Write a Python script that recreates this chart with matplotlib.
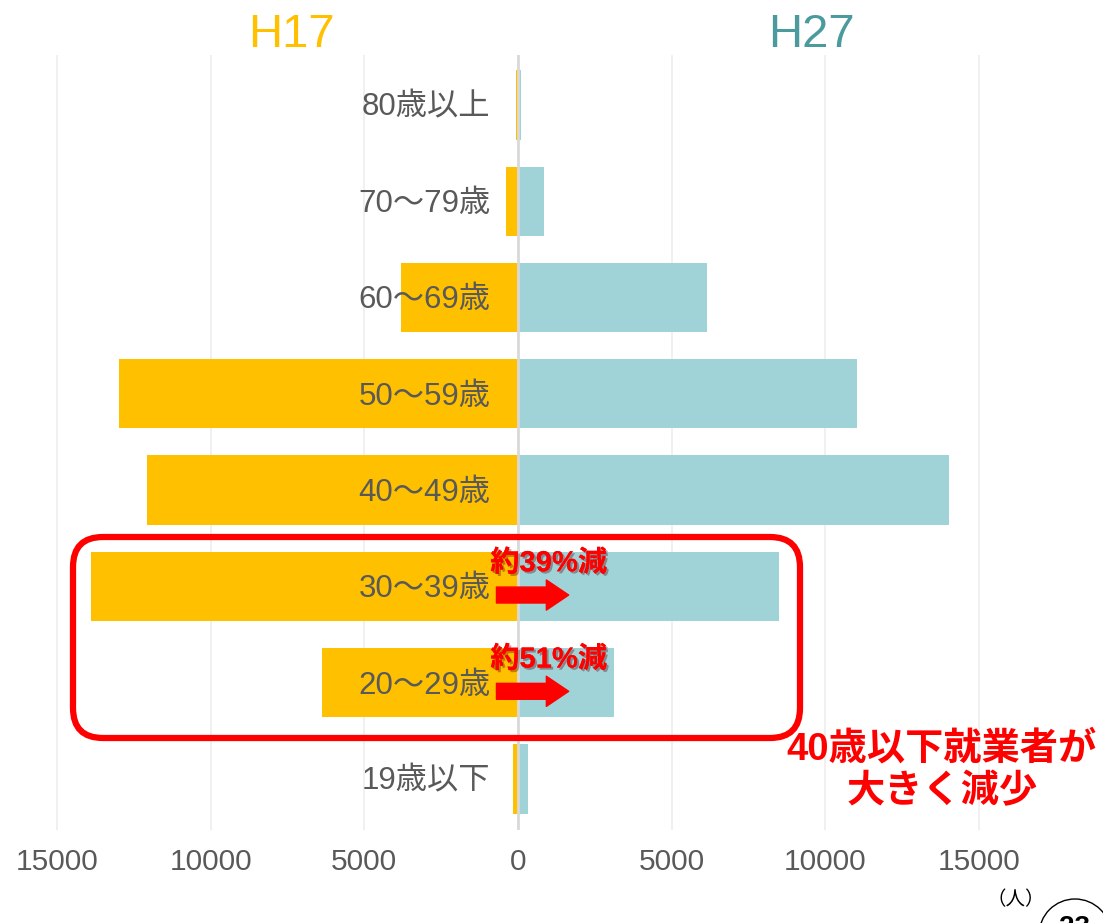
import matplotlib.pyplot as plt
import matplotlib.patheffects as pe
from matplotlib.patches import FancyBboxPatch, Circle
from matplotlib.transforms import IdentityTransform

# 年齢階級別の就業者数（人）
ages = ["19歳以下", "20～29歳", "30～39歳", "40～49歳",
        "50～59歳", "60～69歳", "70～79歳", "80歳以上"]
h17 = [160, 6380, 13890, 12070, 12980, 3800, 390, 60]
h27 = [330, 3120, 8490, 14020, 11030, 6150, 850, 100]
ticks = [-15000, -10000, -5000, 0, 5000, 10000, 15000]
tick_labels = ["15000", "10000", "5000", "0", "5000", "10000", "15000"]

# 減少率の注記（年齢階級の位置, 文字）
notes = [(1, "約51%減"), (2, "約39%減")]

GOLD = "#FFC000"
TEAL = "#A0D3D7"
GRAY = "#595959"
FONT = ["Liberation Sans", "Noto Sans CJK JP"]

plt.rcParams["font.family"] = FONT

fig = plt.figure(figsize=(11.03, 9.23), dpi=100)
ax = fig.add_axes([0, 0.1008, 1, 0.8397])

y = list(range(len(ages)))
ax.barh(y, [-v for v in h17], height=0.72, color=GOLD, zorder=2)
ax.barh(y, h27, height=0.72, color=TEAL, zorder=2)
ax.axvline(0, color="#D9D9D9", lw=2, zorder=3)

ax.set_xlim(-16850, 19030)
ax.set_ylim(-0.53, 7.52)
ax.set_xticks(ticks)
ax.set_xticklabels(tick_labels)
ax.tick_params(axis="x", length=0, pad=13, labelsize=21.5, labelcolor=GRAY)
ax.set_yticks([])
ax.grid(axis="x", color="#EDEDED", lw=1.2, zorder=0)
for s in ax.spines.values():
    s.set_visible(False)

for yi, lab in zip(y, ages):
    ax.text(-900, yi - 0.03, lab, ha="right", va="center", fontsize=22.5, color=GRAY, zorder=4)

# 系列名
fig.text(0.264, 0.962, "H17", ha="center", va="center", fontsize=34, color=GOLD)
fig.text(0.736, 0.962, "H27", ha="center", va="center", fontsize=34, color="#4A9A9E")

# 減少率と矢印
shadow = [pe.withSimplePatchShadow(offset=(1.5, -1.5), alpha=0.35), pe.Normal()]
for yi, txt in notes:
    ax.text(-900, yi + 0.24, txt, ha="left", va="center", fontsize=21,
            fontweight="bold", color="red", zorder=5, path_effects=shadow)
    ax.annotate("", xy=(1650, yi - 0.09), xytext=(-700, yi - 0.09),
                arrowprops=dict(arrowstyle="simple,head_width=1.55,head_length=1.15,tail_width=0.82",
                                mutation_scale=14, color="red", shrinkA=0, shrinkB=0),
                zorder=5)

# 40歳未満を囲む枠
box = FancyBboxPatch((73, 185), 727, 201, boxstyle="round,pad=0,rounding_size=30",
                     transform=IdentityTransform(), fill=False, ec="red", lw=4.5)
fig.add_artist(box)

fig.text(0.854, 0.165, "40歳以下就業者が\n大きく減少", ha="center", va="center",
         fontsize=27.5, fontweight="bold", color="red", linespacing=1.22)

fig.text(0.921, 0.025, "（人）", ha="center", va="center", fontsize=14, color="black")
circ = Circle((1075, -12), 36, transform=IdentityTransform(), fill=False, ec="black", lw=1)
fig.add_artist(circ)
fig.text(1075 / 1103, -0.005, "23", ha="center", va="center", fontsize=20,
         fontweight="bold", color="black")

fig.savefig("out.png", dpi=100)
